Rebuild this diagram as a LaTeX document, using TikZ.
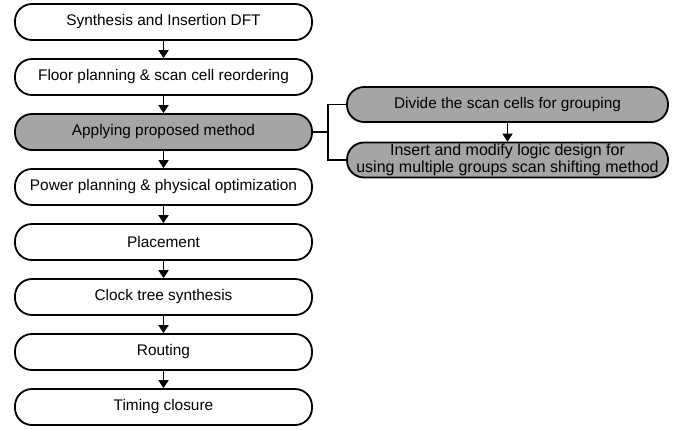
\documentclass[tikz,border=0pt]{standalone}
\usepackage{fontspec}
\setmainfont{Liberation Sans}
\usetikzlibrary{arrows.meta}
\definecolor{boxgray}{RGB}{165,165,165}
\tikzset{
  stepbox/.style={draw=black, line width=1.8pt, rounded corners=17pt, minimum width=297pt, minimum height=36pt, inner sep=0pt, font=\fontsize{15.4pt}{16pt}\selectfont, align=center, fill=white},
  graybox/.style={stepbox, fill=boxgray},
  sidebox/.style={graybox, minimum width=321pt, minimum height=35pt},
  conn/.style={line width=1.8pt, -{Triangle[length=8pt,width=10pt]}},
  link/.style={line width=1.8pt}
}
\begin{document}
\begin{tikzpicture}[x=1pt,y=-1pt]
\useasboundingbox (0,0) rectangle (681,429);
\node[stepbox] (b1) at (163.5,22) {Synthesis and Insertion DFT};
\node[stepbox] (b2) at (163.5,77) {Floor planning \& scan cell reordering};
\node[graybox] (b3) at (163.5,132) {Applying proposed method};
\node[stepbox] (b4) at (163.5,187) {Power planning \& physical optimization};
\node[stepbox] (b5) at (163.5,242) {Placement};
\node[stepbox] (b6) at (163.5,297) {Clock tree synthesis};
\node[stepbox] (b7) at (163.5,352) {Routing};
\node[stepbox] (b8) at (163.5,407) {Timing closure};
\node[sidebox] (r1) at (507.5,104.5) {Divide the scan cells for grouping};
\node[sidebox, font=\fontsize{16pt}{16.5pt}\selectfont] (r2) at (507.5,160) {Insert and modify logic design for\\using multiple groups scan shifting method};
\foreach \a/\b in {b1/b2,b2/b3,b3/b4,b4/b5,b5/b6,b6/b7,b7/b8,r1/r2}
  \draw[conn] (\a.south) -- (\b.north);
\coordinate (j) at (328,132);
\draw[link] (b3.east) -- (j);
\draw[link] (r1.west) -| (j) |- (r2.west);
\end{tikzpicture}
\end{document}
